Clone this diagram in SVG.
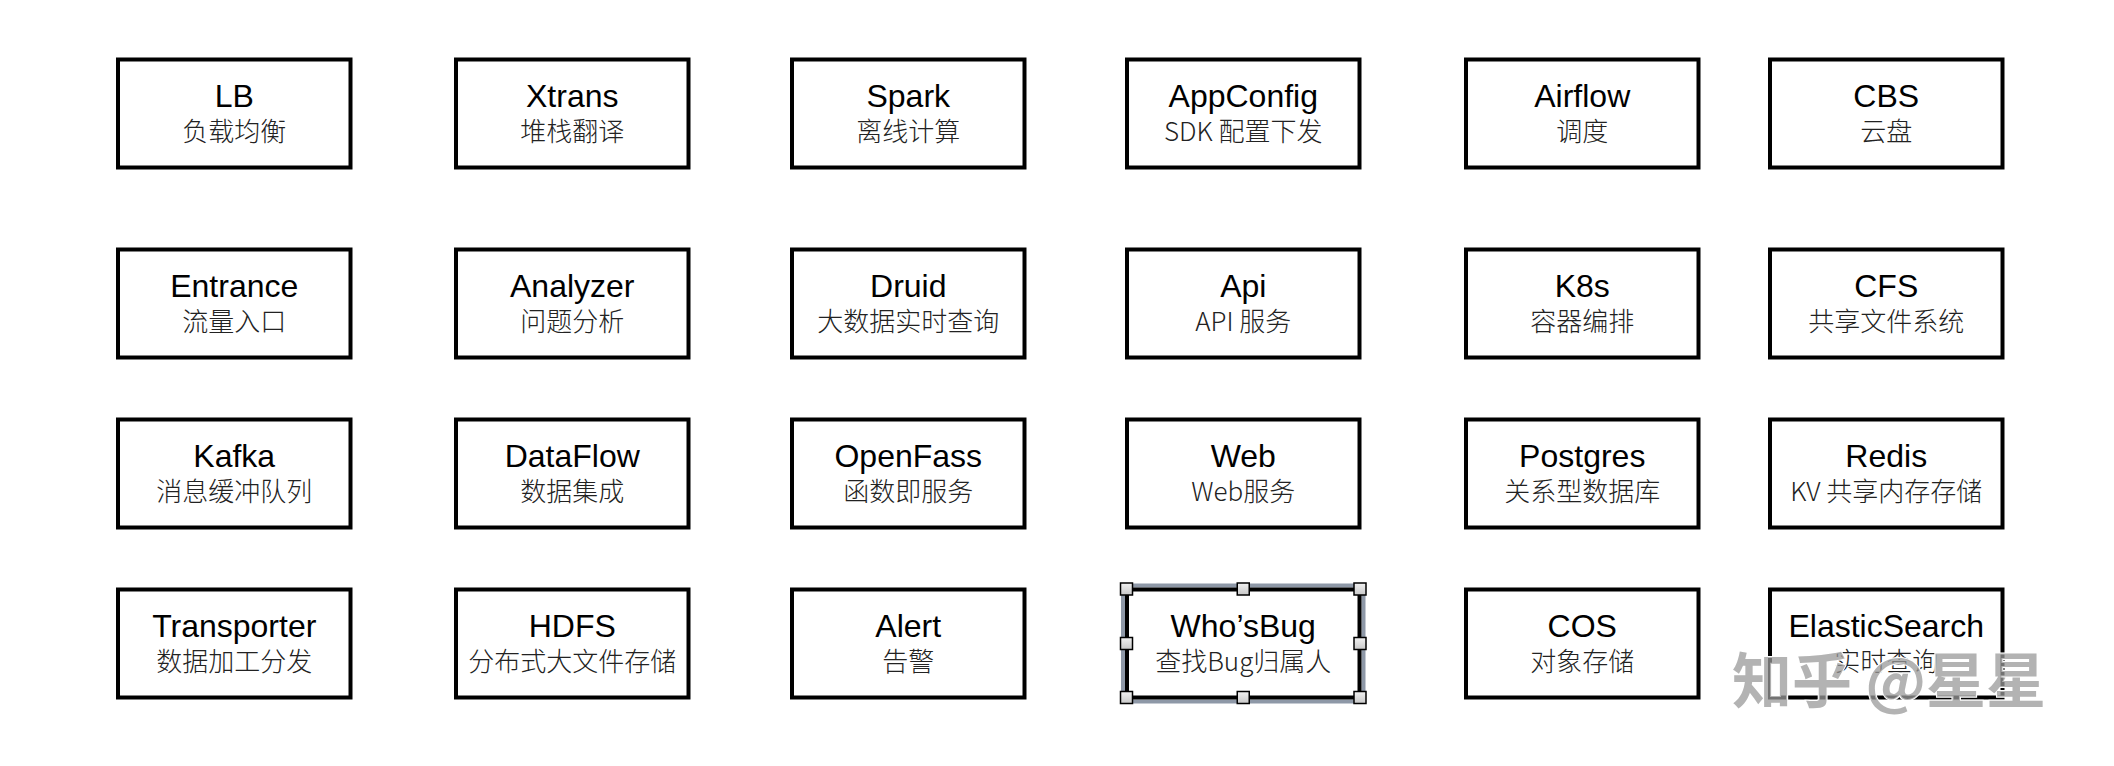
<svg xmlns="http://www.w3.org/2000/svg" width="2114" height="766" viewBox="0 0 2114 766">
<style>
.box{fill:#fff;stroke:#000;stroke-width:4}
.t{font-family:"Liberation Sans",Arial,sans-serif;font-size:32px;fill:#000;text-anchor:middle}
.s{font-family:"Noto Sans CJK SC","Noto Sans",sans-serif;font-size:26px;font-weight:300;fill:#222;text-anchor:middle}
.sel{fill:none;stroke:#8e98a7;stroke-width:4}
.h{fill:url(#hg);stroke:#000;stroke-width:1.5}
.wm{font-family:"Noto Sans CJK SC",sans-serif;font-size:60px;font-weight:700;fill:#9a9a9a;fill-opacity:0.75;stroke:#fff;stroke-width:2;paint-order:stroke}
</style>
<defs>
<linearGradient id="hg" x1="0" y1="0" x2="0" y2="1"><stop offset="0" stop-color="#f2f2f2"/><stop offset="1" stop-color="#c8c8c8"/></linearGradient>
</defs>
<rect width="2114" height="766" fill="#fff"/>
<g id="connectors"></g>

<g id="n-lb"><rect class="box" x="118" y="59.5" width="232.5" height="108"/><text class="t" x="234.25" y="107">LB</text><text class="s" x="234.25" y="141">负载均衡</text></g>
<g id="n-xtrans"><rect class="box" x="456" y="59.5" width="232.5" height="108"/><text class="t" x="572.25" y="107">Xtrans</text><text class="s" x="572.25" y="141">堆栈翻译</text></g>
<g id="n-spark"><rect class="box" x="792" y="59.5" width="232.5" height="108"/><text class="t" x="908.25" y="107">Spark</text><text class="s" x="908.25" y="141">离线计算</text></g>
<g id="n-appconfig"><rect class="box" x="1127" y="59.5" width="232.5" height="108"/><text class="t" x="1243.25" y="107">AppConfig</text><text class="s" x="1243.25" y="141">SDK 配置下发</text></g>
<g id="n-airflow"><rect class="box" x="1466" y="59.5" width="232.5" height="108"/><text class="t" x="1582.25" y="107">Airflow</text><text class="s" x="1582.25" y="141">调度</text></g>
<g id="n-cbs"><rect class="box" x="1770" y="59.5" width="232.5" height="108"/><text class="t" x="1886.25" y="107">CBS</text><text class="s" x="1886.25" y="141">云盘</text></g>

<g id="n-entrance"><rect class="box" x="118" y="249.5" width="232.5" height="108"/><text class="t" x="234.25" y="297">Entrance</text><text class="s" x="234.25" y="331">流量入口</text></g>
<g id="n-analyzer"><rect class="box" x="456" y="249.5" width="232.5" height="108"/><text class="t" x="572.25" y="297">Analyzer</text><text class="s" x="572.25" y="331">问题分析</text></g>
<g id="n-druid"><rect class="box" x="792" y="249.5" width="232.5" height="108"/><text class="t" x="908.25" y="297">Druid</text><text class="s" x="908.25" y="331">大数据实时查询</text></g>
<g id="n-api"><rect class="box" x="1127" y="249.5" width="232.5" height="108"/><text class="t" x="1243.25" y="297">Api</text><text class="s" x="1243.25" y="331">API 服务</text></g>
<g id="n-k8s"><rect class="box" x="1466" y="249.5" width="232.5" height="108"/><text class="t" x="1582.25" y="297">K8s</text><text class="s" x="1582.25" y="331">容器编排</text></g>
<g id="n-cfs"><rect class="box" x="1770" y="249.5" width="232.5" height="108"/><text class="t" x="1886.25" y="297">CFS</text><text class="s" x="1886.25" y="331">共享文件系统</text></g>

<g id="n-kafka"><rect class="box" x="118" y="419.5" width="232.5" height="108"/><text class="t" x="234.25" y="467">Kafka</text><text class="s" x="234.25" y="501">消息缓冲队列</text></g>
<g id="n-dataflow"><rect class="box" x="456" y="419.5" width="232.5" height="108"/><text class="t" x="572.25" y="467">DataFlow</text><text class="s" x="572.25" y="501">数据集成</text></g>
<g id="n-openfass"><rect class="box" x="792" y="419.5" width="232.5" height="108"/><text class="t" x="908.25" y="467">OpenFass</text><text class="s" x="908.25" y="501">函数即服务</text></g>
<g id="n-web"><rect class="box" x="1127" y="419.5" width="232.5" height="108"/><text class="t" x="1243.25" y="467">Web</text><text class="s" x="1243.25" y="501">Web服务</text></g>
<g id="n-postgres"><rect class="box" x="1466" y="419.5" width="232.5" height="108"/><text class="t" x="1582.25" y="467">Postgres</text><text class="s" x="1582.25" y="501">关系型数据库</text></g>
<g id="n-redis"><rect class="box" x="1770" y="419.5" width="232.5" height="108"/><text class="t" x="1886.25" y="467">Redis</text><text class="s" x="1886.25" y="501">KV 共享内存存储</text></g>

<g id="n-transporter"><rect class="box" x="118" y="589.5" width="232.5" height="108"/><text class="t" x="234.25" y="637">Transporter</text><text class="s" x="234.25" y="671">数据加工分发</text></g>
<g id="n-hdfs"><rect class="box" x="456" y="589.5" width="232.5" height="108"/><text class="t" x="572.25" y="637">HDFS</text><text class="s" x="572.25" y="671">分布式大文件存储</text></g>
<g id="n-alert"><rect class="box" x="792" y="589.5" width="232.5" height="108"/><text class="t" x="908.25" y="637">Alert</text><text class="s" x="908.25" y="671">告警</text></g>
<g id="n-whosbug">
<rect class="sel" x="1123" y="585.5" width="240.5" height="116"/>
<rect class="box" x="1127" y="589.5" width="232.5" height="108"/>
<text class="t" x="1243.25" y="637">Who’sBug</text><text class="s" x="1243.25" y="671">查找Bug归属人</text>
<rect class="h" x="1120.5" y="583" width="12" height="12"/>
<rect class="h" x="1237.25" y="583" width="12" height="12"/>
<rect class="h" x="1354" y="583" width="12" height="12"/>
<rect class="h" x="1120.5" y="637.5" width="12" height="12"/>
<rect class="h" x="1354" y="637.5" width="12" height="12"/>
<rect class="h" x="1120.5" y="691.5" width="12" height="12"/>
<rect class="h" x="1237.25" y="691.5" width="12" height="12"/>
<rect class="h" x="1354" y="691.5" width="12" height="12"/>
</g>
<g id="n-cos"><rect class="box" x="1466" y="589.5" width="232.5" height="108"/><text class="t" x="1582.25" y="637">COS</text><text class="s" x="1582.25" y="671">对象存储</text></g>
<g id="n-es"><rect class="box" x="1770" y="589.5" width="232.5" height="108"/><text class="t" x="1886.25" y="637">ElasticSearch</text><text class="s" x="1886.25" y="671">实时查询</text></g>

<text class="wm" x="1732" y="703">知乎 @星星</text>
</svg>
